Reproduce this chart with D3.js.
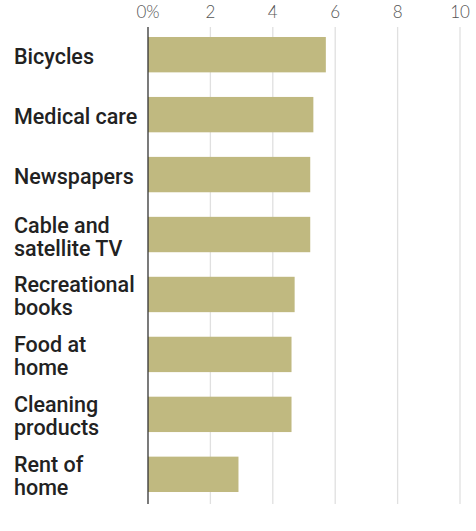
<!DOCTYPE html>
<html><head><meta charset="utf-8">
<script src="https://cdn.jsdelivr.net/npm/d3@7"></script>
<style>body{margin:0;background:#fff;} svg{display:block;}</style>
</head><body>
<svg id="c" width="476" height="531"></svg>
<script>
const categories = ["Bicycles","Medical care","Newspapers","Cable and satellite TV","Recreational books","Food at home","Cleaning products","Rent of home"];
const labelLines = [["Bicycles"],["Medical care"],["Newspapers"],["Cable and","satellite TV"],["Recreational","books"],["Food at","home"],["Cleaning","products"],["Rent of","home"]];
const values = [5.7,5.3,5.2,5.2,4.7,4.6,4.6,2.9];
const ticks = [0,2,4,6,8,10];
const tickLabels = ["0%","2","4","6","8","10"];

const svg = d3.select("#c");
const x = d3.scaleLinear().domain([0,10]).range([148,460]);
const y = d3.scaleBand().domain(categories).range([25,504]).paddingInner(0.41).paddingOuter(0.2);

// grid
svg.append("g").selectAll("line").data(ticks.slice(1)).join("line")
  .attr("x1",d=>x(d)).attr("x2",d=>x(d)).attr("y1",27).attr("y2",504)
  .attr("stroke","#e0e0e0").attr("stroke-width",1.3);

// tick labels
svg.append("g").selectAll("text").data(ticks).join("text")
  .attr("x",d=>x(d)).attr("y",17.5).attr("text-anchor","middle")
  .attr("font-family","Lato, sans-serif").attr("font-weight",300).attr("font-size",17).attr("fill","#555")
  .text((d,i)=>tickLabels[i]);

// bars
svg.append("g").selectAll("rect").data(values).join("rect")
  .attr("x",x(0)).attr("y",(d,i)=>y(categories[i]))
  .attr("width",d=>x(d)-x(0)).attr("height",y.bandwidth())
  .attr("fill","#c0b980");

// zero line
svg.append("line").attr("x1",x(0)).attr("x2",x(0)).attr("y1",27).attr("y2",504)
  .attr("stroke","#333").attr("stroke-width",1.3);

// labels
const lg = svg.append("g").attr("font-family","Roboto, sans-serif").attr("font-weight",500)
  .attr("font-size",21.5).attr("fill","#222");
labelLines.forEach((lines,i)=>{
  const cy = y(categories[i]) + y.bandwidth()/2;
  const lh = 23;
  const t = lg.append("text").attr("x",14);
  lines.forEach((ln,j)=>{
    t.append("tspan").attr("x",14)
      .attr("y", cy + 9.5 + (j - (lines.length-1)/2)*lh)
      .text(ln);
  });
});
</script>
</body></html>
